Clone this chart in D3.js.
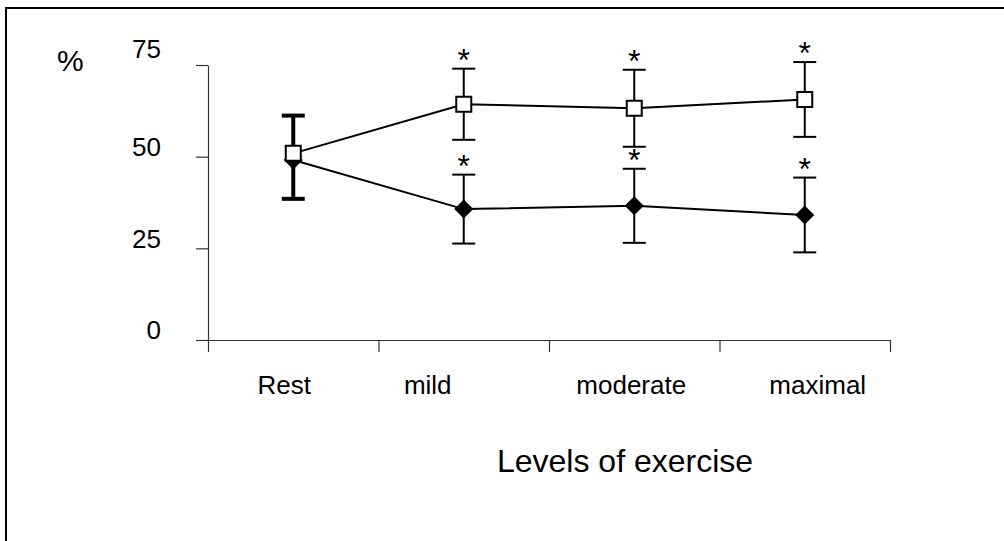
<!DOCTYPE html>
<html>
<head>
<meta charset="utf-8">
<script src="https://cdn.jsdelivr.net/npm/d3@7"></script>
<style>
  body { margin: 0; background: #fff; }
  text { font-family: "Liberation Sans", Arial, sans-serif; fill: #000; }
</style>
</head>
<body>
<script>
const WIDTH  = 1004;
const HEIGHT = 541;

// Chart data
const CATEGORIES  = ["Rest", "mild", "moderate", "maximal"];
const OPEN_MEAN   = [50.9, 64.3, 63.2, 65.6];
const OPEN_SD     = [10.3, 9.7, 10.5, 10.2];
const OPEN_DIR    = ["plus", "both", "both", "both"];
const FILLED_MEAN = [49.1, 35.7, 36.6, 34.1];
const FILLED_SD   = [10.6, 9.4, 10.1, 10.2];
const FILLED_DIR  = ["minus", "both", "both", "both"];
const SIGNIFICANT = [false, true, true, true];
const Y_TICKS     = [0, 25, 50, 75];
const Y_TITLE     = "%";
const X_TITLE     = "Levels of exercise";

// layout
const PLOT_LEFT = 208, PLOT_RIGHT = 890, PLOT_TOP = 65, PLOT_BOTTOM = 340;
const LABEL_DX  = [-9, -36, -3, 13];   // Excel-ish label offsets under each category
const Y_LABEL_DY = [0, 0, 0, -6];      // the top label sits a bit higher

function setUpChart() {
  const svg = d3.select("body").append("svg")
      .attr("width", WIDTH)
      .attr("height", HEIGHT);

  // outer chart frame (runs off the right and bottom of the picture)
  svg.append("rect")
      .attr("x", 6).attr("y", 8)
      .attr("width", 1100).attr("height", 600)
      .attr("fill", "none")
      .attr("stroke", "#000")
      .attr("stroke-width", 2);

  svg.append("text")
      .attr("x", 57).attr("y", 71)
      .style("font-size", "30px")
      .text(Y_TITLE);

  svg.append("text")
      .attr("x", 625).attr("y", 472)
      .attr("text-anchor", "middle")
      .style("font-size", "32px")
      .text(X_TITLE);

  return svg;
}

function setScale() {
  const xScale = d3.scaleBand().domain(CATEGORIES).range([PLOT_LEFT, PLOT_RIGHT]);
  const yScale = d3.scaleLinear().domain([0, 75]).range([PLOT_BOTTOM, PLOT_TOP]);
  return [xScale, yScale];
}

function addAxis(svg, xScale, yScale) {
  // tick marks sit on the category boundaries
  const edgeScale = d3.scaleLinear().domain([0, CATEGORIES.length]).range(xScale.range());
  const xAxis = d3.axisBottom(edgeScale)
      .ticks(CATEGORIES.length)
      .tickSize(12)
      .tickSizeOuter(0)
      .tickFormat("");

  const yAxis = d3.axisLeft(yScale)
      .tickValues(Y_TICKS)
      .tickSize(12)
      .tickSizeOuter(0)
      .tickPadding(35);

  const gx = svg.append("g")
      .attr("id", "x-axis")
      .attr("transform", "translate(0," + PLOT_BOTTOM + ")")
      .call(xAxis);

  const gy = svg.append("g")
      .attr("id", "y-axis")
      .attr("transform", "translate(" + PLOT_LEFT + ",0)")
      .call(yAxis);

  [gx, gy].forEach(g => {
    g.selectAll("path, line").attr("stroke", "#333").attr("stroke-width", 1.2);
  });
  gy.selectAll("text")
      .attr("dy", "-0.05em")
      .attr("y", (d, i) => Y_LABEL_DY[i])
      .style("font-size", "26px")
      .style("font-family", '"Liberation Sans", Arial, sans-serif');

  // category labels
  svg.append("g").selectAll("text")
      .data(CATEGORIES)
      .enter()
      .append("text")
        .attr("x", (d, i) => xScale(d) + xScale.bandwidth() / 2 + LABEL_DX[i])
        .attr("y", 394)
        .attr("text-anchor", "middle")
        .style("font-size", "26px")
        .text(d => d);
}

function drawSeries(svg, xScale, yScale, mean, sd, dir, marker) {
  const cx = (i) => xScale(CATEGORIES[i]) + xScale.bandwidth() / 2;
  const pts = mean.map((m, i) => ({ i: i, m: m, sd: sd[i], dir: dir[i] }));

  svg.append("path")
      .datum(pts)
      .attr("fill", "none")
      .attr("stroke", "#000")
      .attr("stroke-width", 2)
      .attr("d", d3.line().x(d => cx(d.i)).y(d => yScale(d.m)));

  const hi = d => d.dir === "minus" ? d.m : d.m + d.sd;
  const lo = d => d.dir === "plus"  ? d.m : d.m - d.sd;
  const bars = svg.append("g").selectAll("g")
      .data(pts)
      .enter()
      .append("g")
        .attr("stroke", "#000")
        .attr("stroke-width", d => d.i === 0 ? 4 : 2);

  bars.append("line")
      .attr("x1", d => cx(d.i)).attr("x2", d => cx(d.i))
      .attr("y1", d => yScale(hi(d))).attr("y2", d => yScale(lo(d)));
  bars.filter(d => d.dir !== "minus").append("line")
      .attr("x1", d => cx(d.i) - 11.5).attr("x2", d => cx(d.i) + 11.5)
      .attr("y1", d => yScale(hi(d))).attr("y2", d => yScale(hi(d)));
  bars.filter(d => d.dir !== "plus").append("line")
      .attr("x1", d => cx(d.i) - 11.5).attr("x2", d => cx(d.i) + 11.5)
      .attr("y1", d => yScale(lo(d))).attr("y2", d => yScale(lo(d)));

  // significance stars above the upper whisker
  svg.append("g").selectAll("text")
      .data(pts.filter(d => SIGNIFICANT[d.i]))
      .enter()
      .append("text")
        .attr("x", d => cx(d.i))
        .attr("y", d => yScale(hi(d)) + 2)
        .attr("text-anchor", "middle")
        .style("font-size", "32px")
        .text("*");

  return svg.append("g").selectAll("path")
      .data(pts)
      .enter()
      .append("path")
        .attr("transform", d => "translate(" + cx(d.i) + "," + yScale(d.m) + ")" +
                                (marker === "diamond" ? " rotate(45)" : ""))
        .attr("d", marker === "diamond"
              ? d3.symbol(d3.symbolSquare, 180)()
              : d3.symbol(d3.symbolSquare, 225)())
        .attr("fill", marker === "diamond" ? "#000" : "#fff")
        .attr("stroke", "#000")
        .attr("stroke-width", marker === "diamond" ? 0 : 2);
}

// Main Code
const svg = setUpChart();
const [xScale, yScale] = setScale();
addAxis(svg, xScale, yScale);
drawSeries(svg, xScale, yScale, FILLED_MEAN, FILLED_SD, FILLED_DIR, "diamond");
drawSeries(svg, xScale, yScale, OPEN_MEAN, OPEN_SD, OPEN_DIR, "square");
</script>
</body>
</html>
